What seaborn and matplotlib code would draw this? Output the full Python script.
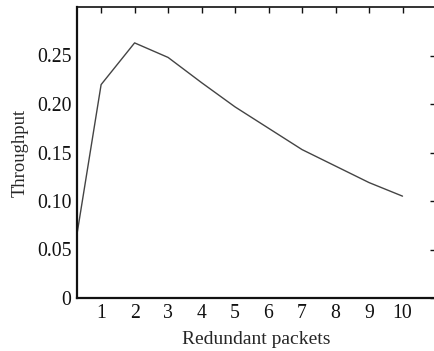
import matplotlib
matplotlib.use("Agg")
import matplotlib.pyplot as plt
import seaborn as sns
import pandas as pd

redundant = [0, 1, 2, 3, 4, 5, 6, 7, 8, 9, 10]
throughput = [0.006, 0.220, 0.263, 0.248, 0.222, 0.197, 0.175, 0.153, 0.136, 0.119, 0.105]
yticks = [0, 0.05, 0.10, 0.15, 0.20, 0.25]
ytick_labels = ["0", "0.05", "0.10", "0.15", "0.20", "0.25"]
xticks = [1, 2, 3, 4, 5, 6, 7, 8, 9, 10]

sns.set_style("white")
plt.rcParams["font.family"] = ["Liberation Serif", "DejaVu Serif"]

df = pd.DataFrame({"Redundant packets": redundant, "Throughput": throughput})

fig = plt.figure(figsize=(4.35, 3.51), dpi=100)
ax = fig.add_axes([77 / 435, 1 - 298 / 351, (436 - 77) / 435, (298 - 7) / 351])
sns.lineplot(data=df, x="Redundant packets", y="Throughput", ax=ax,
             color="#444444", linewidth=1.0)
ax.set_xlim(0.28, 11.0)
ax.set_ylim(0, 0.30)
ax.set_xticks(xticks)
ax.set_xticklabels([str(v) for v in xticks])
ax.set_yticks(yticks)
ax.set_yticklabels(ytick_labels)
ax.tick_params(direction="in", length=4, width=1, top=True, right=True,
               labelsize=14.2, colors="#111111", pad=4)
for s in ax.spines.values():
    s.set_color("#111111")
    s.set_linewidth(1.6)
ax.spines["top"].set_linewidth(1.2)
ax.set_xlabel("Redundant packets", fontsize=14, labelpad=6)
ax.set_ylabel("Throughput", fontsize=13.4, labelpad=6)
fig.savefig("out.png", dpi=100)
